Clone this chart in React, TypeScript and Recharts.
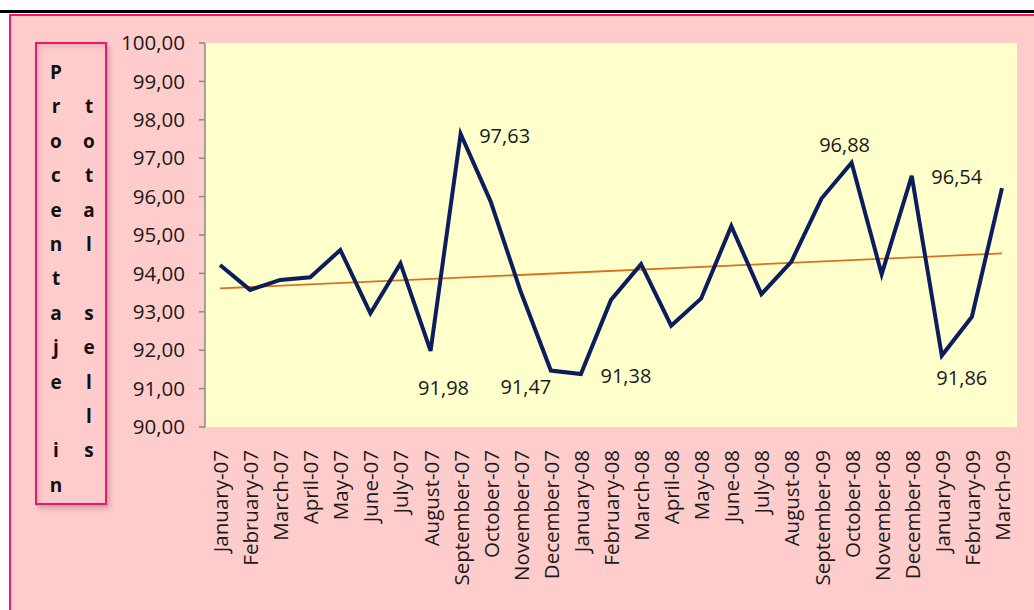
import React from 'react';
import { LineChart, Line, XAxis, YAxis, CartesianGrid, ReferenceLine, LabelList } from 'recharts';

const months = [
  'January-07', 'February-07', 'March-07', 'April-07', 'May-07', 'June-07', 'July-07', 'August-07',
  'September-07', 'October-07', 'November-07', 'December-07', 'January-08', 'February-08', 'March-08',
  'April-08', 'May-08', 'June-08', 'July-08', 'August-08', 'September-09', 'October-08', 'November-08',
  'December-08', 'January-09', 'February-09', 'March-09',
];
const values = [
  94.22, 93.57, 93.83, 93.9, 94.61, 92.96, 94.26, 91.98, 97.63, 95.87, 93.52, 91.47, 91.38, 93.31, 94.24,
  92.64, 93.35, 95.23, 93.46, 94.31, 95.95, 96.88, 93.98, 96.54, 91.86, 92.87, 96.22,
];
const yTicks = [90, 91, 92, 93, 94, 95, 96, 97, 98, 99, 100];
const trendStart = 93.61;
const trendEnd = 94.52;
const labelColumnLeft = ['P', 'r', 'o', 'c', 'e', 'n', 't', 'a', 'j', 'e', '', 'i', 'n'];
const labelColumnRight = ['', 't', 'o', 't', 'a', 'l', '', 's', 'e', 'l', 'l', 's'];

// label placement offsets (dx, dy from the point to label centre)
const labelOffsets: Record<string, [number, number]> = {
  'August-07': [13, 37],
  'September-07': [44, 1],
  'December-07': [-25, 16],
  'January-08': [45, 1],
  'October-08': [-7, -18],
  'December-08': [45, 1],
  'January-09': [20, 22],
};

const data = months.map((m, i) => ({ idx: i, month: m, value: values[i] }));
const edgeTicks = [...months.map((_, i) => i - 0.5), months.length - 0.5];
const labelTicks = months.map((_, i) => i);

const fmt = (v: number) => v.toFixed(2).replace('.', ',');
const FONT = '"Open Sans", "Liberation Sans", sans-serif';
const TEXT = '#1a1a1a';

const XTick = (props: any) => {
  const { x, payload } = props;
  const y = 450;
  return (
    <text
      x={x}
      y={y}
      transform={`rotate(-90, ${x}, ${y})`}
      textAnchor="end"
      dominantBaseline="central"
      fontFamily={FONT}
      fontSize={20.5}
      fill={TEXT}
    >
      {months[payload.value]}
    </text>
  );
};

const PointLabel = (props: any) => {
  const { x, y, index } = props;
  const m = months[index];
  const off = labelOffsets[m];
  if (!off) return null;
  return (
    <text
      x={x + off[0]}
      y={y + off[1]}
      textAnchor="middle"
      dominantBaseline="central"
      fontFamily={FONT}
      fontSize={20}
      fill={TEXT}
    >
      {fmt(values[index])}
    </text>
  );
};

export default function App() {
  return (
    <div style={{ position: 'absolute', left: 0, top: 0, width: 1034, height: 610, background: '#ffffff', overflow: 'hidden' }}>
      <div style={{ position: 'absolute', left: 0, top: 10, width: 1034, height: 3, background: '#000' }} />
      <div
        style={{
          position: 'absolute',
          left: 9,
          top: 14,
          width: 1060,
          height: 620,
          background: '#FFCCCC',
          borderTop: '2px solid #F2146E',
          borderLeft: '2px solid #F2146E',
        }}
      />
      <div
        style={{
          position: 'absolute',
          left: 35,
          top: 42,
          width: 68,
          height: 459,
          border: '2.5px solid #F2146E',
          boxShadow: 'inset 3px 3px 6px rgba(0,0,0,0.10), 3px 4px 5px rgba(0,0,0,0.18)',
          fontFamily: FONT,
          fontWeight: 700,
          fontSize: 19,
          color: '#111',
        }}
      >
        {labelColumnLeft.map((c, i) => (
          <span key={'l' + i} style={{ position: 'absolute', left: 12, width: 14, textAlign: 'center', top: 16 + i * 34.4, lineHeight: '24px' }}>
            {c}
          </span>
        ))}
        {labelColumnRight.map((c, i) => (
          <span key={'r' + i} style={{ position: 'absolute', left: 45, width: 14, textAlign: 'center', top: 16 + i * 34.4, lineHeight: '24px' }}>
            {c}
          </span>
        ))}
      </div>
      <div style={{ position: 'absolute', left: 0, top: 0 }}>
        <LineChart width={1034} height={610} data={data} margin={{ top: 43, right: 17, left: 0, bottom: 0 }}>
          <CartesianGrid horizontal={false} vertical={false} fill="#FFFFCC" xAxisId="edges" />
          <XAxis
            xAxisId="edges"
            dataKey="idx"
            type="number"
            domain={[-0.5, months.length - 0.5]}
            ticks={edgeTicks}
            tick={false}
            tickSize={7}
            height={0}
            axisLine={{ stroke: '#8a8a8a', strokeWidth: 1.5 }}
            tickLine={{ stroke: '#8a8a8a', strokeWidth: 1.5 }}
            allowDataOverflow
            interval={0}
          />
          <XAxis
            dataKey="idx"
            type="number"
            domain={[-0.5, months.length - 0.5]}
            ticks={labelTicks}
            tick={<XTick />}
            tickLine={false}
            axisLine={false}
            height={183}
            allowDataOverflow
            interval={0}
          />
          <YAxis
            domain={[90, 100]}
            ticks={yTicks}
            width={205}
            tickSize={6}
            tickMargin={14}
            tickFormatter={fmt}
            interval={0}
            axisLine={{ stroke: '#8a8a8a', strokeWidth: 1.5 }}
            tickLine={{ stroke: '#8a8a8a', strokeWidth: 1.5 }}
            tick={{ fontFamily: FONT, fontSize: 20.5, fill: TEXT }}
          />
          <ReferenceLine
            segment={[
              { x: 0, y: trendStart },
              { x: months.length - 1, y: trendEnd },
            ]}
            stroke="#D9711F"
            strokeWidth={1.8}
            ifOverflow="visible"
          />
          <Line
            dataKey="value"
            stroke="#0B1D5C"
            strokeWidth={4}
            dot={false}
            isAnimationActive={false}
          >
            <LabelList dataKey="value" content={<PointLabel />} />
          </Line>
        </LineChart>
      </div>
    </div>
  );
}
